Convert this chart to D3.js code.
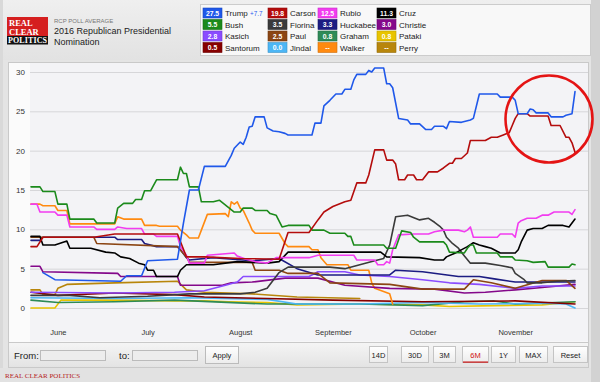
<!DOCTYPE html>
<html><head><meta charset="utf-8">
<script src="https://cdn.jsdelivr.net/npm/d3@7"></script>
<style>
html,body{margin:0;padding:0;background:#e6e6e6;overflow:hidden;}
svg{display:block;font-family:"Liberation Sans",Arial,Helvetica,sans-serif;}
</style></head><body>
<svg id="c" width="600" height="382"></svg>
<script>
// ---------------- DATA ----------------
const candidates = ["Trump","Bush","Kasich","Santorum","Carson","Fiorina","Paul","Jindal","Rubio","Huckabee","Graham","Walker","Cruz","Christie","Pataki","Perry"];
const latest = ["27.5","5.5","2.8","0.5","19.8","3.5","2.5","0.0","12.5","3.3","0.8","--","11.3","3.0","0.8","--"];
const leaderSpread = "+7.7";
const yTicks = [0,5,10,15,20,25,30];
const rangeButtons = ["14D","30D","3M","6M","1Y","MAX","Reset"];
const activeRange = "6M";
const dateRange = ["5/23","11/21"];

const trump = [["5/27",4.5],["5/31",3.6],["6/22",3.4],["6/24",4.1],["6/29",4.1],["7/1",6.0],["7/11",6.2],["7/13",10.8],["7/15",15.0],["7/18",15.0],["7/20",18.0],["7/27",18.0],["7/29",19.4],["7/30",20.3],["8/1",21.1],["8/2",20.8],["8/3",21.7],["8/4",23.0],["8/5",23.1],["8/6",24.3],["8/9",24.3],["8/10",22.9],["8/12",22.5],["8/14",22.4],["8/16",22.2],["8/17",22.0],["8/25",22.0],["8/26",23.5],["8/28",23.5],["8/29",25.7],["8/31",26.4],["9/2",27.2],["9/4",27.2],["9/5",27.8],["9/7",27.8],["9/8",29.0],["9/9",29.7],["9/12",29.7],["9/13",30.2],["9/14",30.0],["9/15",30.5],["9/18",30.5],["9/19",28.5],["9/20",28.5],["9/21",28.0],["9/23",24.1],["9/26",23.9],["9/27",23.4],["9/30",23.4],["10/2",22.7],["10/4",22.7],["10/5",23.1],["10/8",23.1],["10/9",22.8],["10/10",23.7],["10/14",23.6],["10/17",23.9],["10/18",24.1],["10/20",27.2],["10/26",27.2],["10/27",26.8],["10/31",26.8],["11/1",26.4],["11/2",24.7],["11/5",24.7],["11/6",25.3],["11/7",25.2],["11/8",24.8],["11/12",24.8],["11/13",24.3],["11/17",24.3],["11/18",24.5],["11/20",24.7],["11/21",27.5]];
const carson = [["5/23",7.8],["5/25",7.8],["5/27",9.0],["6/13",9.0],["6/20",9.4],["7/11",9.4],["7/14",6.5],["7/20",6.5],["8/1",6.3],["8/14",6.2],["8/17",9.6],["8/24",9.6],["8/27",11.2],["8/29",12.2],["9/1",12.9],["9/5",13.5],["9/7",13.7],["9/9",15.9],["9/12",15.9],["9/13",16.9],["9/15",20.1],["9/18",20.1],["9/19",18.8],["9/21",18.8],["9/22",18.3],["9/23",16.3],["9/25",16.3],["9/26",16.9],["9/28",16.9],["9/29",16.3],["10/1",16.3],["10/3",17.3],["10/6",17.3],["10/8",17.8],["10/10",18.4],["10/11",18.4],["10/12",19.0],["10/14",19.0],["10/16",19.7],["10/17",21.3],["10/22",21.3],["10/24",21.7],["10/26",21.7],["10/28",22.0],["10/30",22.3],["10/31",23.2],["11/1",24.1],["11/2",24.7],["11/5",24.7],["11/6",24.4],["11/12",24.4],["11/13",23.2],["11/16",23.2],["11/18",21.7],["11/19",21.7],["11/20",21.0],["11/21",19.8]];
const bush = [["5/23",15.4],["5/26",15.4],["5/27",14.8],["5/31",14.8],["6/1",13.2],["6/4",13.2],["6/5",11.3],["6/13",11.3],["6/14",10.8],["6/20",10.8],["6/21",12.7],["6/23",13.3],["6/26",13.3],["6/27",13.8],["6/29",13.8],["6/30",14.9],["7/2",14.9],["7/4",16.3],["7/11",16.3],["7/12",17.9],["7/13",17.1],["7/14",17.1],["7/15",15.4],["7/18",15.4],["7/19",13.5],["7/23",13.5],["7/25",13.7],["7/30",12.2],["8/1",12.2],["8/2",12.7],["8/5",12.7],["8/6",12.4],["8/10",12.4],["8/11",12.0],["8/13",11.8],["8/15",10.3],["8/17",10.5],["8/24",10.5],["8/25",9.9],["8/29",9.9],["8/31",9.5],["9/5",9.5],["9/6",9.1],["9/7",9.1],["9/8",8.0],["9/18",8.0],["9/19",7.6],["9/22",7.6],["9/24",9.8],["9/27",9.6],["9/28",9.0],["9/30",8.4],["10/8",8.4],["10/9",8.0],["10/10",7.1],["10/15",7.0],["10/16",7.6],["10/17",8.0],["10/18",8.0],["10/19",7.0],["10/26",7.0],["10/27",6.5],["10/31",6.5],["11/1",6.1],["11/5",6.0],["11/7",5.8],["11/11",5.9],["11/12",5.2],["11/19",5.2],["11/20",5.6],["11/21",5.5]];
const walker = [["5/23",13.2],["5/26",13.2],["5/27",13.0],["5/31",13.0],["6/1",12.4],["6/4",12.4],["6/5",10.7],["6/20",10.7],["6/21",11.6],["6/23",11.3],["6/29",11.3],["6/30",10.5],["7/4",10.5],["7/5",10.4],["7/11",10.4],["7/12",9.9],["7/14",9.3],["7/15",8.9],["7/18",8.9],["7/19",9.9],["7/21",11.9],["7/27",12.0],["7/28",11.6],["7/29",13.5],["7/30",13.2],["7/31",13.5],["8/1",12.7],["8/2",12.4],["8/4",10.8],["8/5",9.9],["8/6",9.5],["8/14",9.5],["8/16",8.2],["8/17",7.8],["8/24",7.8],["8/25",7.4],["8/27",7.4],["8/28",6.4],["8/30",5.5],["9/6",5.5],["9/7",4.8],["9/13",4.8],["9/14",3.2],["9/15",2.5],["9/20",1.8],["9/21",0.5]];
const rubio = [["5/23",13.2],["5/25",13.2],["5/26",12.2],["5/31",12.2],["6/1",11.8],["6/4",11.8],["6/5",10.3],["6/13",10.3],["6/14",10.0],["6/20",10.0],["6/21",10.3],["6/24",10.1],["6/29",10.1],["6/30",9.4],["7/3",9.4],["7/4",9.1],["7/11",9.1],["7/12",7.8],["7/14",6.7],["7/15",5.7],["7/20",5.7],["7/21",6.7],["7/30",7.0],["7/31",6.6],["8/3",6.2],["8/6",5.9],["8/10",5.7],["8/13",6.4],["8/24",6.4],["8/27",6.7],["9/8",6.7],["9/9",6.1],["9/15",6.1],["9/16",5.5],["9/18",5.5],["9/19",5.9],["9/20",5.7],["9/21",7.4],["9/23",9.3],["9/28",9.4],["10/3",9.4],["10/5",9.7],["10/8",9.9],["10/13",9.9],["10/15",9.7],["10/16",9.9],["10/17",10.3],["10/18",9.0],["10/26",9.0],["10/27",9.4],["10/31",9.4],["11/1",9.0],["11/2",10.8],["11/3",11.1],["11/5",11.4],["11/8",11.4],["11/10",11.8],["11/12",11.8],["11/14",12.2],["11/19",12.2],["11/20",11.9],["11/21",12.5]];
const cruz = [["5/23",9.1],["5/26",9.1],["5/27",8.0],["5/31",8.0],["6/3",8.4],["6/4",8.5],["6/5",7.6],["6/12",7.6],["6/17",7.1],["6/20",7.0],["6/22",6.5],["6/25",6.3],["6/28",5.7],["6/30",5.5],["7/1",4.8],["7/3",4.8],["7/4",4.0],["7/11",4.0],["7/12",4.8],["7/14",5.5],["7/23",5.5],["7/31",5.9],["8/10",5.7],["8/14",5.9],["8/17",7.1],["9/17",7.1],["9/19",6.5],["9/30",6.4],["10/5",6.1],["10/8",6.1],["10/9",6.5],["10/12",7.0],["10/13",7.2],["10/16",7.8],["10/18",8.3],["10/20",8.0],["10/22",7.8],["10/24",7.6],["10/27",7.0],["11/1",7.0],["11/2",7.4],["11/3",8.4],["11/5",9.9],["11/7",10.1],["11/10",10.1],["11/12",10.5],["11/17",10.5],["11/19",10.3],["11/21",11.3]];
const fiorina = [["5/23",1.6],["6/5",1.6],["6/15",1.3],["7/1",1.5],["7/15",1.8],["8/1",1.8],["8/6",2.0],["8/10",2.5],["8/14",4.5],["8/17",5.2],["8/31",5.2],["9/5",5.0],["9/10",5.5],["9/15",6.0],["9/18",6.3],["9/20",8.0],["9/22",11.6],["9/26",11.8],["9/30",11.2],["10/3",11.4],["10/5",10.9],["10/7",10.3],["10/8",9.9],["10/9",9.0],["10/11",8.2],["10/13",7.6],["10/15",6.6],["10/17",5.7],["10/22",5.7],["10/27",5.4],["10/31",5.1],["11/1",4.4],["11/4",3.6],["11/5",3.2],["11/10",3.2],["11/15",3.4],["11/21",3.5]];
const huckabee = [["5/23",8.6],["5/26",8.6],["5/27",9.0],["6/20",9.0],["6/21",8.7],["6/29",8.7],["6/30",8.2],["7/4",7.8],["7/11",7.8],["7/12",7.4],["7/14",6.4],["7/15",6.1],["7/23",6.4],["8/5",6.0],["8/14",6.3],["8/20",5.0],["8/27",4.2],["9/20",4.2],["9/22",4.8],["10/1",4.6],["10/13",4.0],["10/20",4.0],["10/25",3.7],["11/1",3.3],["11/21",3.3]];
const paul = [["5/23",9.0],["6/13",9.0],["6/14",8.2],["7/11",7.8],["7/14",6.5],["7/15",5.8],["8/5",5.8],["8/6",4.8],["8/14",4.8],["8/17",4.4],["8/27",4.4],["8/31",3.2],["9/20",3.0],["10/1",2.4],["10/15",2.4],["10/18",3.6],["10/24",3.2],["11/1",2.5],["11/10",3.5],["11/18",3.5],["11/21",2.5]];
const christie = [["5/23",5.3],["5/26",5.3],["5/27",4.6],["6/21",4.4],["6/22",4.0],["7/11",4.0],["7/12",2.9],["7/26",2.9],["7/29",3.2],["8/5",3.3],["8/16",3.8],["8/27",3.8],["9/5",2.9],["9/20",2.5],["10/5",2.4],["10/15",1.9],["10/22",2.0],["11/1",2.3],["11/10",2.6],["11/21",3.0]];
const kasich = [["5/23",2.0],["6/20",1.9],["7/10",2.0],["7/20",2.2],["7/28",3.0],["7/31",3.3],["8/2",4.0],["8/24",4.0],["8/27",4.6],["9/5",4.6],["9/10",4.2],["9/20",4.0],["10/1",3.6],["10/10",3.2],["10/20",3.0],["11/1",2.5],["11/10",2.8],["11/21",2.8]];
const santorum = [["5/23",2.0],["6/1",1.6],["6/20",1.9],["7/10",1.7],["7/20",1.4],["8/10",1.2],["9/1",1.0],["10/1",0.8],["11/1",0.9],["11/21",0.5]];
const perry = [["5/23",2.3],["5/26",2.3],["5/27",1.7],["5/31",1.7],["6/1",2.5],["6/4",3.0],["6/20",3.2],["7/11",3.4],["7/14",2.3],["7/20",2.0],["8/5",1.8],["8/20",1.4],["9/10",1.2]];
const jindal = [["5/23",1.3],["6/20",1.2],["7/15",1.3],["8/10",1.1],["8/20",0.5],["9/10",0.5],["10/1",0.7],["10/20",0.5],["11/10",0.6],["11/18",0.5],["11/21",0.0]];
const graham = [["5/23",1.0],["6/1",0.7],["6/20",0.8],["7/10",1.0],["8/10",0.5],["9/10",0.5],["10/1",0.3],["10/15",0.8],["10/25",0.9],["11/1",0.5],["11/21",0.8]];
const pataki = [["5/23",0.0],["5/31",0.0],["6/2",1.0],["6/20",1.0],["7/10",0.9],["7/20",0.9],["7/28",0.8],["8/10",0.7],["8/20",0.4],["9/10",0.5],["10/1",0.4],["10/10",0.2],["10/25",0.3],["11/10",0.4],["11/21",0.8]];

const seriesByName = {Trump:trump,Carson:carson,Bush:bush,Walker:walker,Rubio:rubio,Cruz:cruz,Fiorina:fiorina,Huckabee:huckabee,Paul:paul,Christie:christie,Kasich:kasich,Santorum:santorum,Perry:perry,Jindal:jindal,Graham:graham,Pataki:pataki};

// ---------------- STYLE ----------------
const colors = {Trump:"#1f58ea",Bush:"#1b8a1b",Kasich:"#8a4cff",Santorum:"#860000",Carson:"#b40c0c",Fiorina:"#3a3a3a",Paul:"#8b4513",Jindal:"#4cb6f5",Rubio:"#f23cf0",Huckabee:"#1c1c82",Graham:"#2e8b57",Walker:"#ff8a10",Cruz:"#000000",Christie:"#84088a",Pataki:"#e8c400",Perry:"#b8860b"};
const drawOrder = ["Perry","Pataki","Graham","Jindal","Santorum","Walker","Christie","Kasich","Huckabee","Paul","Fiorina","Cruz","Rubio","Bush","Carson","Trump"];

// ---------------- DRAW ----------------
const parse = s => d3.timeParse("%m/%d/%Y")(s + "/2015");
const svg = d3.select("#c");
const defs = svg.append("defs");
const g1 = defs.append("linearGradient").attr("id","hdr").attr("x1",0).attr("y1",0).attr("x2",0).attr("y2",1);
g1.append("stop").attr("offset","0").attr("stop-color","#efefef");
g1.append("stop").attr("offset","1").attr("stop-color","#e2e2e2");
const g2 = defs.append("linearGradient").attr("id","ctl").attr("x1",0).attr("y1",0).attr("x2",0).attr("y2",1);
g2.append("stop").attr("offset","0").attr("stop-color","#f5f5f5");
g2.append("stop").attr("offset","1").attr("stop-color","#e3e3e3");
const g3 = defs.append("linearGradient").attr("id","btn").attr("x1",0).attr("y1",0).attr("x2",0).attr("y2",1);
g3.append("stop").attr("offset","0").attr("stop-color","#ffffff");
g3.append("stop").attr("offset","1").attr("stop-color","#ececec");

svg.append("rect").attr("width",600).attr("height",382).attr("fill","#e4e4e4");
svg.append("rect").attr("width",591).attr("height",60).attr("fill","url(#hdr)");
svg.append("rect").attr("x",591).attr("width",9).attr("height",382).attr("fill","#d2d2d2");
svg.append("rect").attr("x",0).attr("y",0).attr("width",3).attr("height",382).attr("fill","#d9d9d9");

// logo
const logo = svg.append("g");
logo.append("rect").attr("x",7).attr("y",17).attr("width",41).attr("height",20).attr("fill","#d51f1f");
logo.append("rect").attr("x",7).attr("y",36).attr("width",41).attr("height",8.5).attr("fill","#111");
logo.append("text").attr("x",9).attr("y",26).attr("font-family","'Liberation Serif',serif").attr("font-size",8.5).attr("font-weight","bold").attr("fill","#fff").text("REAL");
logo.append("text").attr("x",9).attr("y",34.5).attr("font-family","'Liberation Serif',serif").attr("font-size",8.5).attr("font-weight","bold").attr("fill","#fff").text("CLEAR");
logo.append("text").attr("x",8).attr("y",43).attr("font-family","'Liberation Serif',serif").attr("font-size",8).attr("font-weight","bold").attr("fill","#fff").attr("textLength",39).text("POLITICS");

svg.append("text").attr("x",54).attr("y",23).attr("font-size",6).attr("fill","#777").text("RCP POLL AVERAGE");
svg.append("text").attr("x",54).attr("y",34).attr("font-size",9).attr("fill","#222").text("2016 Republican Presidential");
svg.append("text").attr("x",54).attr("y",44.5).attr("font-size",9).attr("fill","#222").text("Nomination");

// legend
svg.append("rect").attr("x",200.5).attr("y",4.5).attr("width",390).attr("height",51).attr("fill","#f8f8f8").attr("stroke","#cccccc");
const colX = [203,268,318,377];
const rowY = [8,19.5,31,42.5];
const leg = svg.append("g");
candidates.forEach((name,i)=>{
  const cx = colX[Math.floor(i/4)], cy = rowY[i%4];
  const gg = leg.append("g");
  gg.append("rect").attr("x",cx).attr("y",cy).attr("width",19).attr("height",10).attr("fill",colors[name]).attr("stroke",d3.color(colors[name]).darker(0.6)).attr("stroke-width",0.6);
  gg.append("text").attr("x",cx+9.5).attr("y",cy+7.5).attr("text-anchor","middle").attr("font-size",6.8).attr("font-weight","bold").attr("fill","#fff").text(latest[i]);
  gg.append("text").attr("x",cx+22).attr("y",cy+8).attr("font-size",8).attr("fill","#222").text(name);
  if(i===0) gg.append("text").attr("x",cx+47).attr("y",cy+7.5).attr("font-size",6.3).attr("fill","#2a5cf0").text(leaderSpread);
});

// chart panel
svg.append("rect").attr("x",8.5).attr("y",62.5).attr("width",580).attr("height",280).attr("fill","#fbfbfb").attr("stroke","#c9c9c9");
const L=30, R=588, T=63, B=342;
svg.append("rect").attr("x",L).attr("y",T).attr("width",R-L).attr("height",B-T-0.5).attr("fill","#f3f3f6");

const x = d3.scaleTime().domain(dateRange.map(parse)).range([31,575]);
const y = d3.scaleLinear().domain([0,30]).range([308,72]);

// grid + y labels
const yAxis = svg.append("g").attr("transform",`translate(${L},0)`)
  .call(d3.axisLeft(y).tickValues(yTicks).tickSize(-(R-L)).tickPadding(5));
yAxis.select(".domain").remove();
yAxis.selectAll(".tick line").attr("stroke","#d6d6d9").attr("stroke-width",1);
yAxis.selectAll(".tick text").attr("font-size",8).attr("fill","#333").attr("font-family","'Liberation Sans',Arial,sans-serif");

// x labels
const xAxis = svg.append("g").attr("transform",`translate(0,330)`)
  .call(d3.axisBottom(x).ticks(d3.timeMonth.every(1)).tickFormat(d3.timeFormat("%B")).tickSize(0).tickPadding(0));
xAxis.select(".domain").remove();
xAxis.selectAll(".tick text").attr("font-size",7.5).attr("fill","#333").attr("font-family","'Liberation Sans',Arial,sans-serif");

// lines
const line = d3.line().x(d=>x(parse(d[0]))).y(d=>y(d[1]));
const lines = svg.append("g").attr("fill","none").attr("stroke-width",1.6).attr("stroke-linejoin","round").attr("stroke-linecap","round");
drawOrder.forEach(name=>{
  lines.append("path").attr("d",line(seriesByName[name])).attr("stroke",colors[name]);
});

// annotation circle
svg.append("circle").attr("cx",549).attr("cy",119).attr("r",43.5).attr("fill","none").attr("stroke","#e41414").attr("stroke-width",2.6);

// controls
svg.append("rect").attr("x",8.5).attr("y",342.5).attr("width",580).attr("height",25).attr("fill","url(#ctl)").attr("stroke","#c9c9c9");
svg.append("text").attr("x",14).attr("y",359).attr("font-size",9.5).attr("fill","#222").text("From:");
svg.append("rect").attr("x",40.5).attr("y",350.5).attr("width",65).attr("height",10).attr("fill","#ededed").attr("stroke","#bbb");
svg.append("text").attr("x",119).attr("y",359).attr("font-size",9.5).attr("fill","#222").text("to:");
svg.append("rect").attr("x",132.5).attr("y",350.5).attr("width",65).attr("height",10).attr("fill","#ededed").attr("stroke","#bbb");
svg.append("rect").attr("x",205.5).attr("y",346.5).attr("width",33).attr("height",17).attr("fill","url(#btn)").attr("stroke","#bbb");
svg.append("text").attr("x",222).attr("y",358).attr("text-anchor","middle").attr("font-size",7.5).attr("fill","#222").text("Apply");
const btnX = [369,401,433,462,491,519,553], btnW = [18,27,22,26,24,28,34];
rangeButtons.forEach((b,i)=>{
  svg.append("rect").attr("x",btnX[i]+0.5).attr("y",346.5).attr("width",btnW[i]).attr("height",16).attr("fill","url(#btn)").attr("stroke","#c4c4c4");
  svg.append("text").attr("x",btnX[i]+btnW[i]/2+0.5).attr("y",357.5).attr("text-anchor","middle").attr("font-size",7.5)
    .attr("fill", b===activeRange ? "#d01010" : "#222").text(b);
  if(b===activeRange) svg.append("rect").attr("x",btnX[i]+1).attr("y",361.5).attr("width",btnW[i]-1).attr("height",1.2).attr("fill","#c81010");
});

// footer
svg.append("rect").attr("x",0).attr("y",368).attr("width",591).attr("height",14).attr("fill","#e2e2e2");
svg.append("text").attr("x",5).attr("y",378).attr("font-family","'Liberation Serif',serif").attr("font-size",7).attr("fill","#b52222").text("REAL CLEAR POLITICS");
</script>
</body></html>
